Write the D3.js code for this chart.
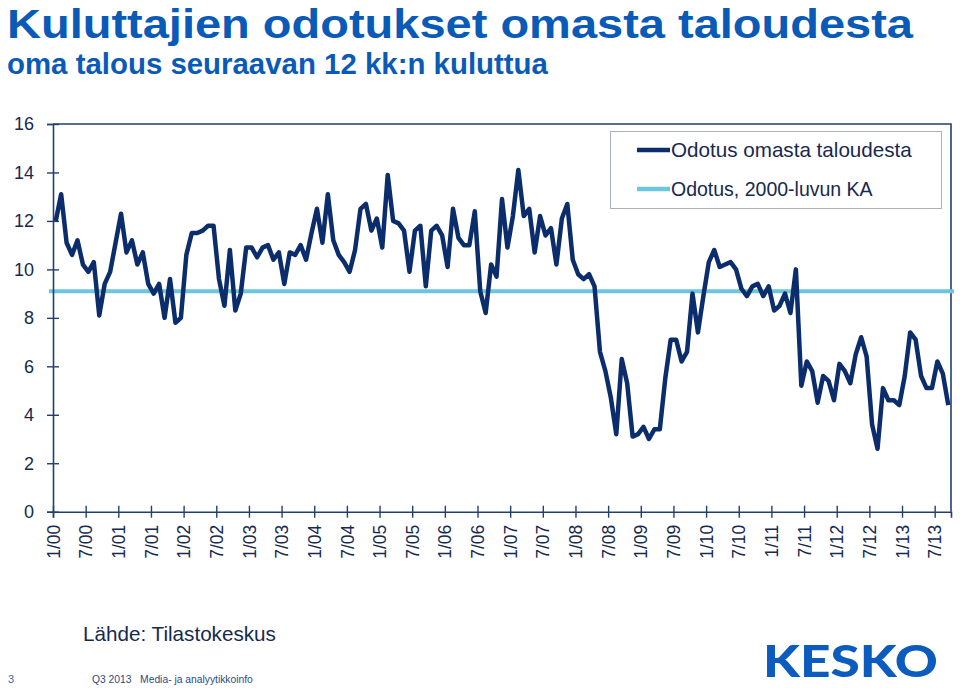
<!DOCTYPE html>
<html>
<head>
<meta charset="utf-8">
<script src="https://cdn.jsdelivr.net/npm/d3@7"></script>
<style>
  html, body { margin: 0; padding: 0; background: #ffffff; }
  svg { display: block; font-family: "Liberation Sans", Arial, sans-serif; }
</style>
</head>
<body>
<svg id="chart" width="960" height="688"></svg>
<script>
// ---- data ----
const titleText = "Kuluttajien odotukset omasta taloudesta";
const subtitleText = "oma talous seuraavan 12 kk:n kuluttua";
const seriesNames = ["Odotus omasta taloudesta", "Odotus, 2000-luvun KA"];
// monthly values 1/2000 ... 9/2013
const odotus = [
  12.0, 13.1, 11.1, 10.6, 11.2, 10.2, 9.9, 10.3, 8.1, 9.4, 9.9, 11.1,
  12.3, 10.7, 11.2, 10.2, 10.7, 9.4, 9.0, 9.4, 8.0, 9.6, 7.8, 8.0,
  10.6, 11.5, 11.5, 11.6, 11.8, 11.8, 9.6, 8.5, 10.8, 8.3, 9.0, 10.9,
  10.9, 10.5, 10.9, 11.0, 10.4, 10.7, 9.4, 10.7, 10.6, 11.0, 10.4, 11.5,
  12.5, 11.1, 13.1, 11.2, 10.6, 10.3, 9.9, 10.8, 12.5, 12.7, 11.6, 12.1,
  10.9, 13.9, 12.0, 11.9, 11.6, 9.9, 11.6, 11.8, 9.3, 11.6, 11.8, 11.4,
  10.1, 12.5, 11.3, 11.0, 11.0, 12.4, 9.1, 8.2, 10.2, 9.7, 12.9, 10.9,
  12.2, 14.1, 12.2, 12.5, 10.7, 12.2, 11.4, 11.7, 10.2, 12.1, 12.7, 10.4,
  9.8, 9.6, 9.8, 9.3, 6.6, 5.8, 4.7, 3.2, 6.3, 5.3, 3.1, 3.2,
  3.5, 3.0, 3.4, 3.4, 5.5, 7.1, 7.1, 6.2, 6.6, 9.0, 7.4, 8.9,
  10.3, 10.8, 10.1, 10.2, 10.3, 10.0, 9.2, 8.9, 9.3, 9.4, 8.9, 9.3,
  8.3, 8.5, 9.0, 8.2, 10.0, 5.2, 6.2, 5.8, 4.5, 5.6, 5.4, 4.6,
  6.1, 5.8, 5.3, 6.5, 7.2, 6.4, 3.6, 2.6, 5.1, 4.6, 4.6, 4.4,
  5.6, 7.4, 7.1, 5.6, 5.1, 5.1, 6.2, 5.7, 4.4
];
const keskiarvo = 9.1;          // 2000-luvun keskiarvo
const monthCount = 165;         // categories on the axis (1/00 .. 9/13)
const xTickLabels = [
  "1/00","7/00","1/01","7/01","1/02","7/02","1/03","7/03","1/04","7/04",
  "1/05","7/05","1/06","7/06","1/07","7/07","1/08","7/08","1/09","7/09",
  "1/10","7/10","1/11","7/11","1/12","7/12","1/13","7/13"
];
const yTicks = [0, 2, 4, 6, 8, 10, 12, 14, 16];
const sourceText = "Lähde: Tilastokeskus";
const footerPage = "3";
const footerText = "Q3 2013   Media- ja analyytikkoinfo";
const logoText = "KESKO";

// ---- styles ----
const navy = "#0c2d6b";
const cyan = "#6cc6dd";
const axisCol = "#22406e";
const textCol = "#16294f";
const blue = "#0a5ab8";

const svg = d3.select("#chart");

const x = d3.scaleLinear().domain([0, monthCount]).range([53, 951]);
const y = d3.scaleLinear().domain([0, 16]).range([511.7, 124]);

function fitText(sel, width) {
  const node = sel.node();
  let fs = parseFloat(sel.attr("font-size"));
  const w = node.getComputedTextLength();
  sel.attr("font-size", (fs * width / w).toFixed(2));
}

// title
svg.append("text").attr("x", 7).attr("y", 38)
  .attr("font-size", 41).attr("font-weight", "bold").attr("fill", blue)
  .attr("textLength", 906).attr("lengthAdjust", "spacingAndGlyphs")
  .text(titleText);
const t2 = svg.append("text").attr("x", 7).attr("y", 74)
  .attr("font-size", 27).attr("font-weight", "bold").attr("fill", blue)
  .text(subtitleText);
fitText(t2, 541);

// plot frame (top + right)
svg.append("path")
  .attr("d", `M${x(0)},${y(16)}H${x(monthCount)}V${y(0)}`)
  .attr("fill", "none").attr("stroke", axisCol).attr("stroke-width", 1.6);

// average line
svg.append("line")
  .attr("x1", x(0) - 4).attr("x2", x(monthCount) + 3)
  .attr("y1", y(keskiarvo)).attr("y2", y(keskiarvo))
  .attr("stroke", cyan).attr("stroke-width", 4);

// y axis
const yAxis = svg.append("g").attr("transform", `translate(${x(0)},0)`)
  .call(d3.axisLeft(y).tickValues(yTicks).tickSize(6).tickPadding(13));
yAxis.select(".domain").attr("stroke", axisCol).attr("stroke-width", 1.6);
yAxis.selectAll(".tick line").attr("x1", 6).attr("x2", -6)
  .attr("stroke", axisCol).attr("stroke-width", 1.4);
yAxis.selectAll(".tick text").attr("font-size", 18)
  .attr("font-family", "Liberation Sans, Arial, sans-serif").attr("fill", textCol);

// x axis
const xTickVals = xTickLabels.map((d, i) => i * 6);
const xAxis = svg.append("g").attr("transform", `translate(0,${y(0)})`)
  .call(d3.axisBottom(x).tickValues(xTickVals).tickSize(6)
    .tickFormat((d, i) => xTickLabels[i]));
xAxis.select(".domain").attr("stroke", axisCol).attr("stroke-width", 1.6);
xAxis.selectAll(".tick line").attr("y1", -6).attr("y2", 6)
  .attr("stroke", axisCol).attr("stroke-width", 1.4);
xAxis.selectAll(".tick text")
  .attr("font-size", 17.5)
  .attr("font-family", "Liberation Sans, Arial, sans-serif")
  .attr("fill", textCol)
  .attr("transform", "rotate(-90)")
  .attr("text-anchor", "end")
  .attr("x", -13).attr("y", 0).attr("dy", "0.35em");

// main series
const line = d3.line().x((d, i) => x(i + 0.5)).y(d => y(d));
svg.append("path").datum(odotus)
  .attr("d", line)
  .attr("fill", "none").attr("stroke", navy).attr("stroke-width", 4.5)
  .attr("stroke-linejoin", "round");

// legend
const lg = svg.append("g");
lg.append("rect").attr("x", 610.5).attr("y", 131.5).attr("width", 331).attr("height", 77)
  .attr("fill", "#fff").attr("stroke", "#a9b1bf").attr("stroke-width", 1);
[[navy, 150], [cyan, 189]].forEach(([c, yy], k) => {
  lg.append("line").attr("x1", 637).attr("x2", 670).attr("y1", yy).attr("y2", yy)
    .attr("stroke", c).attr("stroke-width", 4.5);
  const tx = lg.append("text").attr("x", 671).attr("y", yy).attr("dy", "0.35em")
    .attr("font-size", 19.5).attr("fill", textCol).text(seriesNames[k]);
  if (k === 0) fitText(tx, 241);
});

// source
const src = svg.append("text").attr("x", 83).attr("y", 640.5)
  .attr("font-size", 21).attr("fill", textCol).text(sourceText);
fitText(src, 193);

// footer
svg.append("text").attr("x", 8).attr("y", 683).attr("font-size", 11)
  .attr("fill", "#3d6aa3").text(footerPage);
const ft = svg.append("text").attr("x", 92).attr("y", 683).attr("font-size", 11)
  .attr("fill", "#2b4c80").attr("xml:space", "preserve").style("white-space", "pre")
  .text(footerText);
fitText(ft, 161);

// logo
svg.append("text").attr("x", 763).attr("y", 677)
  .attr("font-size", 44).attr("font-weight", 900)
  .attr("font-family", "Lato, 'Liberation Sans', Arial, sans-serif")
  .attr("fill", "#0b5cbe")
  .attr("textLength", 175).attr("lengthAdjust", "spacingAndGlyphs")
  .text(logoText);
</script>
</body>
</html>
